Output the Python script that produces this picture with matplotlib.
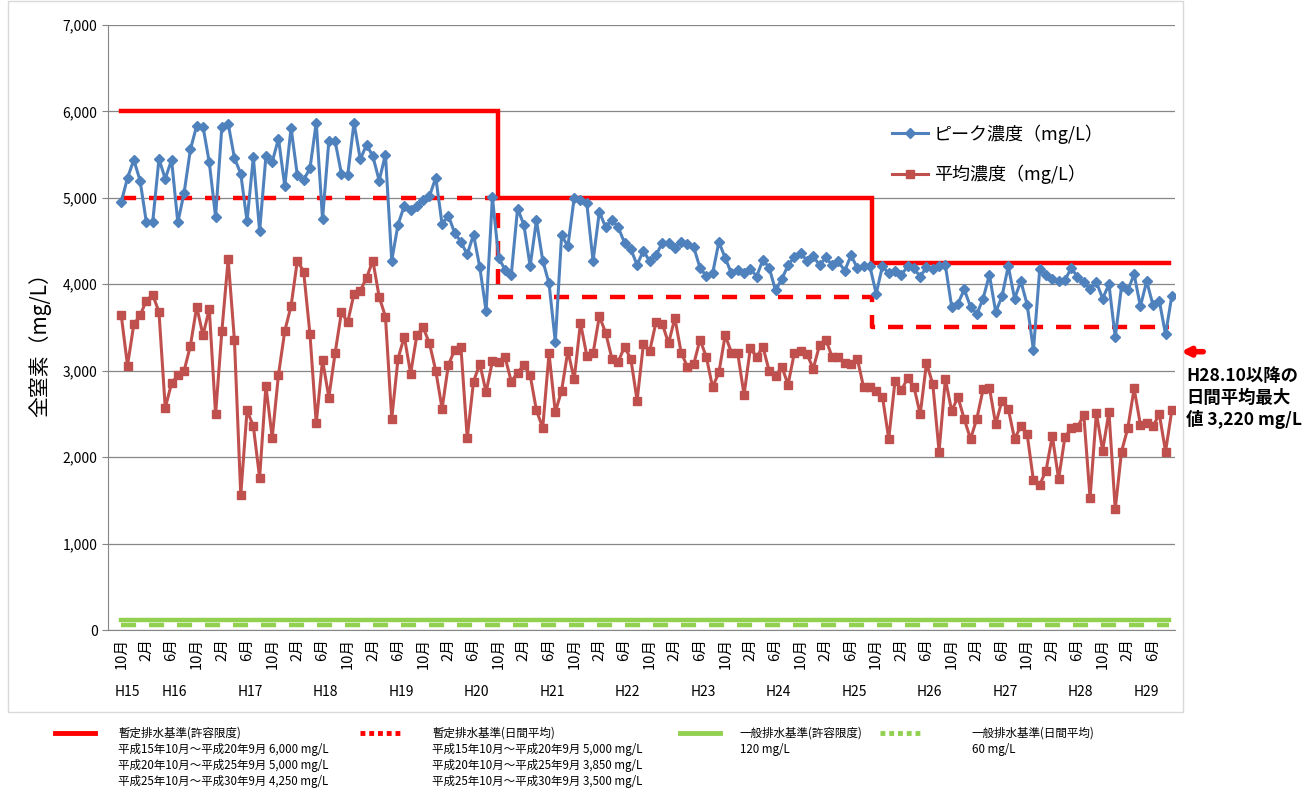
import matplotlib.pyplot as plt
import numpy as np
from matplotlib.lines import Line2D
from matplotlib.patches import Rectangle

plt.rcParams['font.family'] = ['Noto Sans CJK JP', 'DejaVu Sans']

# 月別データ（H15.10 ～ H29.9）
peak = [4950, 5230, 5440, 5200, 4715, 4715, 5450, 5220, 5440, 4715,
        5060, 5560, 5835, 5825, 5410, 4780, 5825, 5860, 5460, 5280,
        4730, 5470, 4615, 5480, 5415, 5685, 5135, 5810, 5260, 5210,
        5340, 5870, 4755, 5655, 5655, 5280, 5260, 5870, 5445, 5615,
        5480, 5200, 5500, 4275, 4690, 4910, 4860, 4905, 4970, 5020,
        5235, 4695, 4795, 4595, 4490, 4345, 4575, 4195, 3690, 5005,
        4305, 4170, 4110, 4875, 4690, 4210, 4740, 4275, 4010, 3335,
        4565, 4440, 5000, 4975, 4940, 4270, 4840, 4660, 4745, 4660,
        4480, 4405, 4225, 4390, 4265, 4335, 4480, 4480, 4420, 4490,
        4470, 4430, 4190, 4095, 4125, 4490, 4305, 4125, 4160, 4125,
        4180, 4090, 4285, 4190, 3930, 4060, 4220, 4315, 4360, 4275,
        4325, 4220, 4310, 4220, 4265, 4155, 4335, 4190, 4210, 4210,
        3890, 4210, 4125, 4155, 4105, 4210, 4190, 4085, 4200, 4180,
        4210, 4220, 3740, 3775, 3940, 3740, 3655, 3835, 4110, 3680,
        3860, 4210, 3835, 4035, 3765, 3240, 4175, 4110, 4065, 4040,
        4045, 4190, 4085, 4025, 3940, 4025, 3835, 4000, 3385, 3975,
        3930, 4115, 3745, 4035, 3760, 3810, 3420, 3870]
avg = [3645, 3060, 3535, 3640, 3810, 3880, 3680, 2570, 2855, 2945,
       3000, 3290, 3740, 3410, 3715, 2495, 3460, 4290, 3350, 1560,
       2540, 2360, 1760, 2825, 2225, 2955, 3460, 3750, 4275, 4145,
       3425, 2390, 3125, 2690, 3205, 3675, 3560, 3890, 3925, 4075,
       4275, 3855, 3625, 2445, 3140, 3395, 2965, 3415, 3500, 3315,
       3000, 2560, 3065, 3240, 3270, 2220, 2875, 3080, 2750, 3110,
       3105, 3160, 2875, 2975, 3065, 2950, 2540, 2340, 3200, 2520,
       2770, 3230, 2900, 3555, 3175, 3200, 3630, 3440, 3140, 3105,
       3275, 3140, 2655, 3305, 3225, 3560, 3545, 3315, 3610, 3210,
       3045, 3075, 3360, 3160, 2810, 2980, 3410, 3210, 3200, 2720,
       3260, 3160, 3275, 2995, 2940, 3045, 2840, 3210, 3230, 3190,
       3025, 3295, 3360, 3160, 3160, 3090, 3075, 3140, 2810, 2810,
       2760, 2700, 2210, 2885, 2775, 2910, 2815, 2495, 3090, 2845,
       2065, 2905, 2535, 2695, 2440, 2210, 2445, 2785, 2805, 2380,
       2655, 2560, 2210, 2360, 2265, 1730, 1680, 1845, 2245, 1745,
       2230, 2335, 2345, 2490, 1525, 2510, 2075, 2525, 1395, 2065,
       2335, 2795, 2375, 2390, 2355, 2500, 2065, 2545]

start_month = 10  # 平成15年10月から
year_labels = ['H15', 'H16', 'H17', 'H18', 'H19', 'H20', 'H21', 'H22',
               'H23', 'H24', 'H25', 'H26', 'H27', 'H28', 'H29']

# 排水基準（期間の区切りは月のインデックス）
limit_breaks = [0, 59.9, 119.4, 166.5]
limit_max = [6000, 5000, 4250]
limit_day = [5000, 3850, 3500]
general_max = 120
general_day = 60
day_max_after = 3220

W, H = 1314, 791
fig = plt.figure(figsize=(W / 100, H / 100), dpi=100)
ax = fig.add_axes([108 / W, 1 - 630 / H, (1175 - 108) / W, (630 - 25) / H])

x = np.arange(len(peak))
n = len(peak)


def step_xy(breaks, vals):
        xs, ys = [], []
        for i, v in enumerate(vals):
                xs += [breaks[i], breaks[i + 1]]
                ys += [v, v]
        return xs, ys


red = '#FF0000'
green = '#92D050'
xs, ys = step_xy(limit_breaks, limit_max)
ax.plot(xs, ys, color=red, lw=3.2, zorder=2, solid_joinstyle='miter')
xs, ys = step_xy(limit_breaks, limit_day)
ax.plot(xs, ys, color=red, lw=3.2, dashes=(3.4, 2.9), zorder=2)
ax.plot([limit_breaks[0], limit_breaks[-1]], [general_max] * 2, color=green, lw=3.2, zorder=2)
ax.plot([limit_breaks[0], limit_breaks[-1]], [general_day] * 2, color=green, lw=3.2,
        dashes=(3.4, 2.9), zorder=2)

l1, = ax.plot(x, peak, color='#4F81BD', lw=2.2, marker='D', markersize=5,
              markerfacecolor='#4F81BD', markeredgecolor='#4F81BD', zorder=3,
              label='ピーク濃度（mg/L）')
l2, = ax.plot(x, avg, color='#C0504D', lw=2.2, marker='s', markersize=6,
              markerfacecolor='#C0504D', markeredgecolor='#C0504D', zorder=3,
              label='平均濃度（mg/L）')

ax.set_xlim(-2.1, 167.5)
ax.set_ylim(0, 7000)
ax.set_yticks(range(0, 7001, 1000))
ax.set_yticklabels([f'{v:,}' for v in range(0, 7001, 1000)], fontsize=10)
ax.grid(axis='y', color='#868686', lw=0.9)
ax.set_axisbelow(True)
for s in ['top', 'right']:
        ax.spines[s].set_visible(False)
for s in ['left', 'bottom']:
        ax.spines[s].set_color('#868686')
ax.tick_params(axis='y', length=4, color='#868686')

# 月の目盛り（4か月ごと）
months = [(start_month - 1 + i) % 12 + 1 for i in range(n)]
tick_pos = list(range(0, n, 4))
ax.set_xticks(tick_pos)
ax.set_xticklabels([f'{months[i]}月' for i in tick_pos], rotation=90, fontsize=10.5,
                   va='top', ha='center')
ax.tick_params(axis='x', length=0, pad=6)

# 年ラベル（暦年ごとの中央）
years = [(start_month - 1 + i) // 12 for i in range(n)]
for k, lab in enumerate(year_labels):
        idx = [i for i in range(n) if years[i] == k]
        ax.text(np.mean(idx), -0.1025, lab, transform=ax.get_xaxis_transform(),
                ha='center', va='center', fontsize=10)

fig.text(40 / W, 1 - 340 / H, '全窒素（mg/L）', rotation=90, ha='center', va='center',
         fontsize=15)

ax.legend(handles=[l1, l2], loc='upper left', bbox_to_anchor=(876 / W, 1 - 108 / H),
          bbox_transform=fig.transFigure, frameon=False, fontsize=13,
          handlelength=2.0, labelspacing=1.15, handletextpad=0.3)

# 注記と矢印
ax.annotate('', xy=(1178 / W, day_max_after), xycoords=('figure fraction', 'data'),
            xytext=(1206 / W, day_max_after), textcoords=('figure fraction', 'data'),
            arrowprops=dict(arrowstyle='-|>', color=red, lw=4, mutation_scale=12),
            annotation_clip=False)
fig.text(1186 / W, 1 - 367 / H, 'H28.10以降の\n日間平均最大\n値 3,220 mg/L',
         ha='left', va='top', fontsize=12.5, fontweight='bold', linespacing=1.25)

# 外枠
fig.add_artist(Rectangle((8 / W, 1 - 712 / H), (1183 - 8) / W, (712 - 1) / H,
                         transform=fig.transFigure, fill=False, ec='#d9d9d9', lw=1))

# 下部の凡例
legend_items = [
        (55, 118, red, None, ['暫定排水基準(許容限度)',
                              '平成15年10月～平成20年9月 6,000 mg/L',
                              '平成20年10月～平成25年9月 5,000 mg/L',
                              '平成25年10月～平成30年9月 4,250 mg/L']),
        (360, 432, red, (1.0, 0.8), ['暫定排水基準(日間平均)',
                                     '平成15年10月～平成20年9月 5,000 mg/L',
                                     '平成20年10月～平成25年9月 3,850 mg/L',
                                     '平成25年10月～平成30年9月 3,500 mg/L']),
        (680, 740, green, None, ['一般排水基準(許容限度)', '120 mg/L']),
        (880, 972, green, (1.0, 0.8), ['一般排水基準(日間平均)', '60 mg/L']),
]
line_y = [733, 750, 766, 782]
for lx, tx, col, dash, lines in legend_items:
        ln = Line2D([lx / W, (lx + 40) / W], [1 - 733 / H] * 2, color=col, lw=3.5,
                    transform=fig.transFigure)
        if dash:
                ln.set_dashes(dash)
        fig.add_artist(ln)
        for j, t in enumerate(lines):
                fig.text(tx / W, 1 - line_y[j] / H, t, ha='left', va='center', fontsize=8.3)

fig.savefig('out.png', dpi=100)
